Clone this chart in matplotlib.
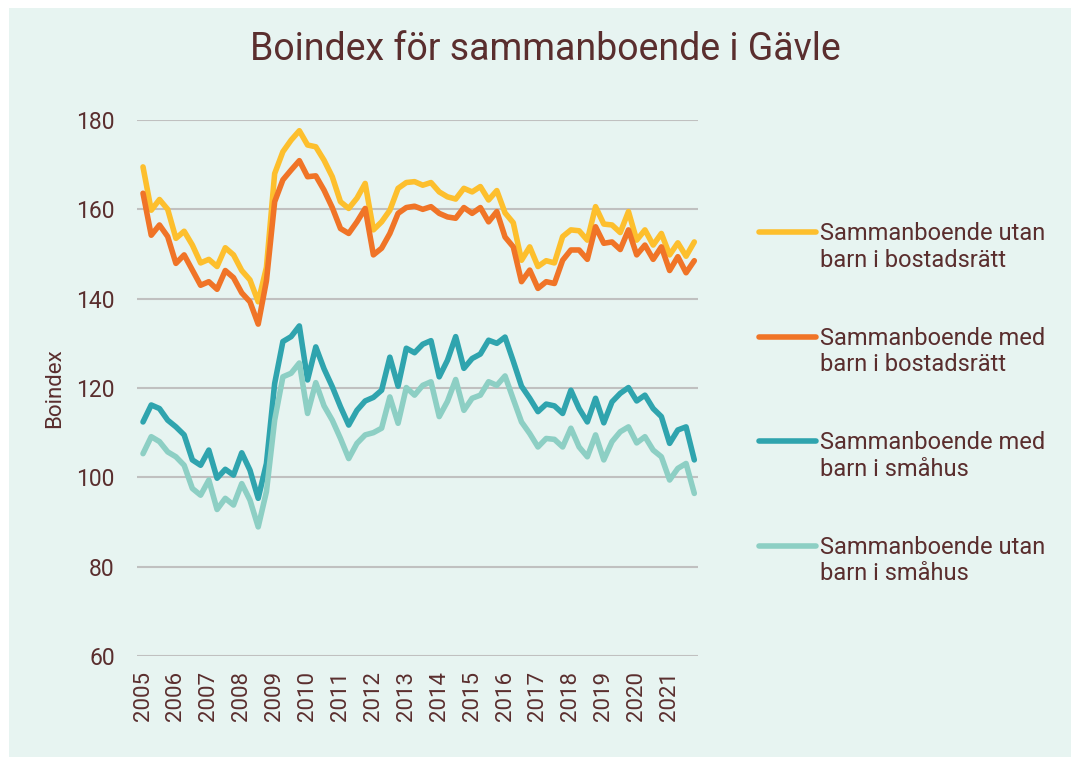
"""Boindex för sammanboende i Gävle, kvartalsdata 2005-2021."""
import matplotlib
matplotlib.use("Agg")
import matplotlib.pyplot as plt
from matplotlib.lines import Line2D
from matplotlib.patches import Rectangle
import numpy as np

plt.rcParams["font.family"] = ["Roboto", "DejaVu Sans"]

TEXT = "#5a2e2e"
BG = "#e7f4f1"

years = list(range(2005, 2022))
quarters = np.arange(len(years) * 4)

utan_barn_br = [
    169.5, 159.8, 162.2, 160.0, 153.5, 155.1, 152.0, 148.0, 148.8, 147.2,
    151.4, 149.8, 146.3, 144.2, 139.3, 147.0, 168.0, 172.9, 175.5, 177.6,
    174.4, 174.0, 171.0, 167.3, 161.7, 160.2, 162.5, 165.8, 155.4, 157.2,
    159.8, 164.7, 166.0, 166.2, 165.4, 166.0, 163.9, 162.8, 162.3, 164.7,
    163.9, 165.1, 162.1, 164.2, 159.2, 157.0, 148.6, 151.6, 147.2, 148.5,
    148.0, 153.9, 155.4, 155.2, 153.1, 160.6, 156.7, 156.5, 154.8, 159.5,
    153.1, 155.4, 152.0, 154.6, 149.8, 152.5, 149.5, 152.7,
]
med_barn_br = [
    163.6, 154.2, 156.5, 153.9, 147.9, 149.8, 146.4, 143.0, 143.8, 142.1,
    146.3, 144.7, 141.3, 139.3, 134.3, 144.0, 161.7, 166.6, 168.8, 170.9,
    167.3, 167.5, 164.3, 160.4, 155.7, 154.6, 157.2, 160.2, 149.8, 151.3,
    154.6, 159.1, 160.4, 160.7, 160.0, 160.6, 159.1, 158.3, 158.0, 160.4,
    159.1, 160.4, 157.2, 159.5, 153.8, 151.6, 143.8, 146.4, 142.3, 143.8,
    143.4, 148.6, 150.9, 150.9, 148.8, 156.1, 152.4, 152.7, 151.0, 155.4,
    149.8, 152.0, 148.8, 151.6, 146.3, 149.4, 145.8, 148.5,
]
med_barn_sh = [
    112.4, 116.2, 115.4, 112.8, 111.3, 109.5, 103.9, 102.7, 106.1, 99.8,
    101.8, 100.5, 105.5, 101.6, 95.3, 103.1, 121.0, 130.4, 131.5, 133.9,
    121.8, 129.2, 124.3, 120.3, 115.8, 111.7, 115.0, 117.1, 117.9, 119.5,
    126.9, 120.4, 128.9, 127.9, 129.8, 130.6, 122.5, 126.2, 131.5, 124.4,
    126.6, 127.6, 130.7, 130.0, 131.4, 126.0, 120.4, 117.7, 114.7, 116.4,
    116.0, 114.3, 119.5, 115.4, 112.4, 117.7, 112.2, 116.9, 118.8, 120.1,
    117.1, 118.4, 115.4, 113.6, 107.6, 110.6, 111.3, 103.9,
]
utan_barn_sh = [
    105.3, 109.1, 108.0, 105.7, 104.6, 102.7, 97.5, 96.0, 99.4, 92.8,
    95.3, 93.8, 98.6, 94.9, 88.9, 96.8, 112.8, 122.5, 123.3, 125.6,
    114.3, 121.2, 116.0, 112.8, 108.7, 104.2, 107.6, 109.5, 110.0, 111.0,
    118.0, 112.1, 120.1, 118.4, 120.6, 121.4, 113.6, 117.0, 121.9, 115.0,
    117.7, 118.4, 121.4, 120.6, 122.7, 117.5, 112.4, 109.8, 106.8, 108.7,
    108.5, 106.8, 111.0, 106.8, 104.6, 109.5, 103.9, 108.0, 110.2, 111.3,
    107.7, 109.1, 106.1, 104.6, 99.4, 102.0, 103.1, 96.4,
]

series = [utan_barn_br, med_barn_br, med_barn_sh, utan_barn_sh]
labels = [
    "Sammanboende utan\nbarn i bostadsrätt",
    "Sammanboende med\nbarn i bostadsrätt",
    "Sammanboende med\nbarn i småhus",
    "Sammanboende utan\nbarn i småhus",
]
colors = ["#fdbf2d", "#f07427", "#2fa4ae", "#8dcfc4"]

W, H = 1071, 757
fig = plt.figure(figsize=(W / 100, H / 100), dpi=100, facecolor="white")
fig.add_artist(Rectangle((9 / W, 0), 1, 1 - 8 / H, transform=fig.transFigure,
                         facecolor=BG, edgecolor="none", zorder=-10))

ax = fig.add_axes([137 / W, 1 - 656 / H, (698 - 137) / W, (656 - 120) / H])
ax.set_facecolor("none")

for vals, col in zip(series, colors):
    ax.plot(quarters, vals, color=col, lw=4.0, solid_joinstyle="round",
            solid_capstyle="round", clip_on=False)

ax.set_ylim(60, 180)
ax.set_xlim(-0.73, 67.45)
ax.set_yticks(np.arange(60, 181, 20))
ax.set_xticks(quarters[::4])
ax.set_xticklabels([str(y) for y in years], rotation=90)
ax.grid(axis="y", color="#c0c0c0", lw=1.5)
ax.set_axisbelow(True)
for s in ax.spines.values():
    s.set_visible(False)
ax.tick_params(axis="y", length=0, pad=16, labelsize=16.5, labelcolor=TEXT)
ax.tick_params(axis="x", length=0, pad=11, labelsize=16, labelcolor=TEXT)
ax.set_ylabel("Boindex", fontsize=16, color=TEXT, labelpad=8)

fig.text(545 / W, 1 - 50 / H, "Boindex för sammanboende i Gävle",
         ha="center", va="center", fontsize=27, color=TEXT)

# legend drawn by hand: handle sits beside first line of each label
for k, (lab, col) in enumerate(zip(labels, colors)):
    yc = 232 + k * 104.5
    fig.add_artist(Line2D([759 / W, 816 / W], [1 - yc / H, 1 - yc / H],
                          transform=fig.transFigure, color=col, lw=4.0,
                          solid_capstyle="round"))
    fig.text(820 / W, 1 - (yc - 10) / H, lab, ha="left", va="top",
             fontsize=17, color=TEXT, linespacing=1.2)

fig.savefig("out.png", dpi=100, facecolor="white")
